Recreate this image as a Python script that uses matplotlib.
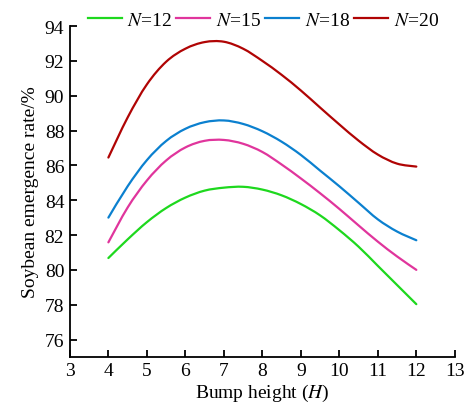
import matplotlib
matplotlib.use("Agg")
import matplotlib.pyplot as plt
from matplotlib.path import Path
from matplotlib.patches import PathPatch
from matplotlib.lines import Line2D

plt.rcParams['font.family'] = ['Liberation Serif', 'DejaVu Serif']
plt.rcParams['mathtext.fontset'] = 'stix'

H = [4, 4.5, 5, 5.5, 6, 6.5, 7, 7.5, 8, 8.5, 9, 9.5, 10, 10.5, 11, 11.5, 12]
n12 = [80.68, 81.75, 82.74, 83.55, 84.15, 84.55, 84.72, 84.77, 84.61, 84.28, 83.78, 83.13, 82.28, 81.33, 80.23, 79.13, 78.03]
n15 = [81.58, 83.58, 85.13, 86.28, 87.03, 87.41, 87.46, 87.24, 86.77, 86.05, 85.25, 84.4, 83.5, 82.55, 81.62, 80.77, 80.0]
n18 = [83.0, 84.8, 86.3, 87.4, 88.1, 88.48, 88.58, 88.38, 87.96, 87.36, 86.6, 85.7, 84.8, 83.85, 82.9, 82.2, 81.7]
n20 = [86.45, 88.75, 90.65, 91.95, 92.7, 93.08, 93.1, 92.7, 92.0, 91.2, 90.3, 89.32, 88.35, 87.42, 86.62, 86.1, 85.93]

series = [("$N$=12", n12, "#1ed81e"),
          ("$N$=15", n15, "#e0359c"),
          ("$N$=18", n18, "#0b80cf"),
          ("$N$=20", n20, "#b00404")]


def smooth_path(xs, ys):
    # Catmull-Rom curve through the read points, drawn as cubic Bezier segments
    pts = list(zip(xs, ys))
    n = len(pts)
    verts = [pts[0]]
    codes = [Path.MOVETO]
    for i in range(n - 1):
        p0 = pts[i - 1] if i > 0 else pts[i]
        p1 = pts[i]
        p2 = pts[i + 1]
        p3 = pts[i + 2] if i + 2 < n else pts[i + 1]
        c1 = (p1[0] + (p2[0] - p0[0]) / 6, p1[1] + (p2[1] - p0[1]) / 6)
        c2 = (p2[0] - (p3[0] - p1[0]) / 6, p2[1] - (p3[1] - p1[1]) / 6)
        verts += [c1, c2, p2]
        codes += [Path.CURVE4] * 3
    return Path(verts, codes)


fig = plt.figure(figsize=(4.66, 4.10), dpi=100)
ax = fig.add_axes([0.150, 0.127, 0.826, 0.807])

handles = []
for label, vals, color in series:
    ax.add_patch(PathPatch(smooth_path(H, vals), facecolor='none', edgecolor=color,
                           lw=1.6, capstyle='round'))
    handles.append(Line2D([], [], color=color, lw=1.6, label=label))

ax.set_xlim(3, 13)
ax.set_ylim(75, 94)
ax.set_xticks(range(3, 14))
ax.set_yticks(range(76, 95, 2))
ax.spines['top'].set_visible(False)
ax.spines['right'].set_visible(False)
for s in ('left', 'bottom'):
    ax.spines[s].set_linewidth(1.3)
ax.tick_params(direction='in', length=5, width=1.3, labelsize=14, pad=4)
ax.set_xlabel("Bump height ($H$)", fontsize=14, labelpad=2)
ax.set_ylabel("Soybean emergence rate/%", fontsize=14, labelpad=4)

fig.legend(handles=handles, loc='center', bbox_to_anchor=(0.565, 0.948), ncol=4,
           frameon=False, fontsize=14, handlelength=1.75, handletextpad=0.3,
           columnspacing=0.2, borderaxespad=0)

fig.savefig("out.png", dpi=100)
